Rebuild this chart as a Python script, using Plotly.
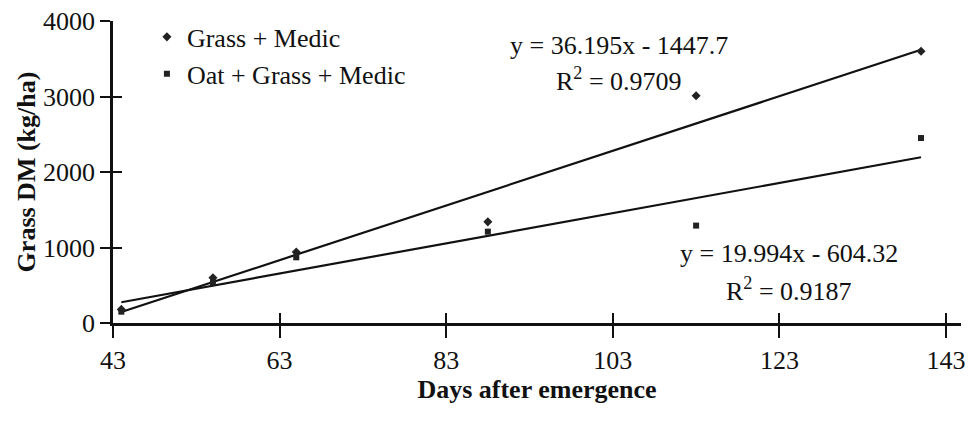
import plotly.graph_objects as go

days = [44, 55, 65, 88, 113, 140]
grass_medic = [180, 600, 940, 1340, 3010, 3600]
oat_grass_medic = [150, 540, 870, 1210, 1290, 2450]
gm_fit = (36.195, -1447.7, 0.9709)
ogm_fit = (19.994, -604.32, 0.9187)
x_ticks = [43, 63, 83, 103, 123, 143]
y_ticks = [0, 1000, 2000, 3000, 4000]

FONT = "'Liberation Serif', 'Times New Roman', serif"
FS = 26

fig = go.Figure()

def fit_line(coef):
    xs = [min(days), max(days)]
    return xs, [coef[0] * x + coef[1] for x in xs]

for coef in (gm_fit, ogm_fit):
    fx, fy = fit_line(coef)
    fig.add_trace(go.Scatter(x=fx, y=fy, mode="lines", line=dict(color="#111", width=2.2),
                             showlegend=False, hoverinfo="skip"))

fig.add_trace(go.Scatter(x=days, y=grass_medic, mode="markers", name="Grass + Medic",
                         marker=dict(symbol="diamond", size=7, color="#222")))
fig.add_trace(go.Scatter(x=days, y=oat_grass_medic, mode="markers", name="Oat + Grass + Medic",
                         marker=dict(symbol="square", size=6, color="#222")))

axis_common = dict(showgrid=False, zeroline=False, linecolor="#111", linewidth=2.5,
                   tickcolor="#111", tickwidth=2)
fig.update_layout(
    width=971, height=421,
    margin=dict(l=113, r=6, t=21, b=98),
    paper_bgcolor="white", plot_bgcolor="white",
    font=dict(family=FONT, size=FS, color="#111"),
    xaxis=dict(range=[43, 144.8], tickvals=x_ticks, ticks="outside", ticklen=12,
               showline=True, **axis_common, tickfont=dict(size=FS, family=FONT),
               title=dict(text="<b>Days after emergence</b>", font=dict(size=FS, family=FONT), standoff=0)),
    yaxis=dict(range=[0, 4000], tickvals=y_ticks, ticks="outside", ticklen=10,
               showline=True, **axis_common, tickfont=dict(size=FS, family=FONT),
               title=dict(text="<b>Grass DM (kg/ha)</b>", font=dict(size=FS, family=FONT), standoff=0)),
    xaxis2=dict(range=[43, 144.8], overlaying="x", anchor="y", side="bottom",
                tickvals=x_ticks, ticks="inside", ticklen=10, showticklabels=False,
                showline=False, showgrid=False, zeroline=False, tickcolor="#111", tickwidth=2),
    yaxis2=dict(range=[0, 4000], overlaying="y", anchor="x", side="left",
                tickvals=y_ticks, ticks="inside", ticklen=9, showticklabels=False,
                showline=False, showgrid=False, zeroline=False, tickcolor="#111", tickwidth=2),
    legend=dict(x=0.04, y=1.025, xanchor="left", yanchor="top", bgcolor="rgba(0,0,0,0)",
                font=dict(size=FS, family=FONT), itemwidth=30, tracegroupgap=0),
    showlegend=True,
)

fig.add_trace(go.Scatter(x=[None], y=[None], xaxis="x2", yaxis="y2", showlegend=False, hoverinfo="skip"))

def eq_text(coef):
    sign = "-" if coef[1] < 0 else "+"
    return f"y = {coef[0]}x {sign} {abs(coef[1])}", f"R<sup>2</sup> = {coef[2]}"

ann = []
for coef, (xc, y1, y2) in ((gm_fit, (103.7, 3680, 3220)), (ogm_fit, (124.1, 925, 440))):
    t1, t2 = eq_text(coef)
    ann.append(dict(x=xc, y=y1, text=t1, showarrow=False, font=dict(size=FS, family=FONT)))
    ann.append(dict(x=xc, y=y2, text=t2, showarrow=False, font=dict(size=FS, family=FONT)))
fig.update_layout(annotations=ann)

fig.write_html("out.html")
